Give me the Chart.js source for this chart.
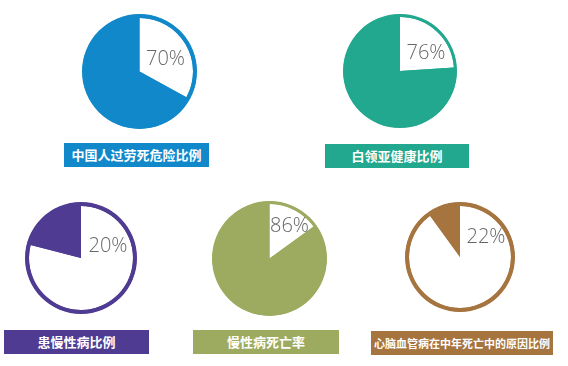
<!DOCTYPE html>
<html>
<head>
<meta charset="utf-8">
<script src="https://cdn.jsdelivr.net/npm/chart.js@4/dist/chart.umd.min.js"></script>
<style>
  body { margin: 0; width: 568px; height: 366px; background: #fff; position: relative; overflow: hidden;
         font-family: "Noto Sans CJK SC", sans-serif; }
  canvas { position: absolute; }
  .tag { position: absolute; height: 24px; line-height: 24px; color: #fff; text-align: center; font-weight: bold;
         white-space: nowrap; }
</style>
</head>
<body>
<script>
// 数据
const names = ["中国人过劳死危险比例", "白领亚健康比例", "患慢性病比例", "慢性病死亡率", "心脑血管病在中年死亡中的原因比例"];
const percentLabels = ["70%", "76%", "20%", "86%", "22%"];
// size of the wedge as drawn in the picture (white wedge on full pies, coloured wedge on ring pies)
const wedgeShare = [33, 24, 21, 15, 10];
const colors = ["#1188c9", "#22a88e", "#4f3c92", "#9cab5f", "#a6743f"];
const ringOnly = [false, false, true, false, true];

// layout
const centers = [[139.5, 71], [400, 71], [81, 257.5], [269, 258], [460, 257]];
const radii = [57.5, 57, 56, 57.5, 55];
const ringWidth = [4, 3, 4, 3, 4];
const textOffset = [[26, -12], [26, -18], [27, -12], [20, -32], [26, -20]];
const tagBoxes = [[64, 143, 145, 13], [325, 144, 144, 13], [4, 330, 145, 13], [193, 330, 146, 13], [371, 331, 182, 11]];

// 底色圆，避免圆环之间的白缝
const baseDisc = {
  id: "baseDisc",
  beforeDatasetsDraw(chart, args, opts) {
    const arc = chart.getDatasetMeta(0).data[0];
    const ctx = chart.ctx;
    ctx.save();
    ctx.beginPath();
    ctx.arc(arc.x, arc.y, arc.outerRadius - 0.5, 0, Math.PI * 2);
    ctx.fillStyle = opts.color;
    ctx.fill();
    ctx.restore();
  }
};

// 百分比文字
const percentText = {
  id: "percentText",
  afterDraw(chart, args, opts) {
    const arc = chart.getDatasetMeta(1).data[0];
    const ctx = chart.ctx;
    ctx.save();
    ctx.font = "300 20px 'Open Sans'";
    ctx.fillStyle = "#666666";
    ctx.textAlign = "center";
    ctx.textBaseline = "middle";
    ctx.fillText(opts.text, arc.x + opts.dx, arc.y + opts.dy);
    ctx.restore();
  }
};

names.forEach((name, i) => {
  const r = radii[i];
  const size = Math.ceil(2 * r) + 4;
  const pad = (size - 2 * r) / 2;
  const cv = document.createElement("canvas");
  cv.width = size;
  cv.height = size;
  cv.style.width = size + "px";
  cv.style.height = size + "px";
  cv.style.left = (centers[i][0] - size / 2) + "px";
  cv.style.top = (centers[i][1] - size / 2) + "px";
  document.body.appendChild(cv);

  const w = wedgeShare[i];
  const inner = ringOnly[i] ? [100 - w, w] : [w, 100 - w];

  new Chart(cv.getContext("2d"), {
    type: "pie",
    data: {
      labels: ["a", "b"],
      datasets: [
        { data: [100], backgroundColor: [colors[i]], borderWidth: 0, hoverOffset: 0, weight: ringWidth[i] },
        { data: inner, backgroundColor: ["#ffffff", colors[i]], borderWidth: 0, hoverOffset: 0, weight: r - ringWidth[i] }
      ]
    },
    options: {
      responsive: false,
      animation: false,
      layout: { padding: pad },
      plugins: {
        legend: { display: false },
        tooltip: { enabled: false },
        baseDisc: { color: colors[i] },
        percentText: { text: percentLabels[i], dx: textOffset[i][0], dy: textOffset[i][1] }
      }
    },
    plugins: [baseDisc, percentText]
  });

  // 标签
  const tag = document.createElement("div");
  tag.className = "tag";
  tag.textContent = name;
  tag.style.left = tagBoxes[i][0] + "px";
  tag.style.top = tagBoxes[i][1] + "px";
  tag.style.width = tagBoxes[i][2] + "px";
  tag.style.fontSize = tagBoxes[i][3] + "px";
  tag.style.background = colors[i];
  document.body.appendChild(tag);
});
</script>
</body>
</html>
